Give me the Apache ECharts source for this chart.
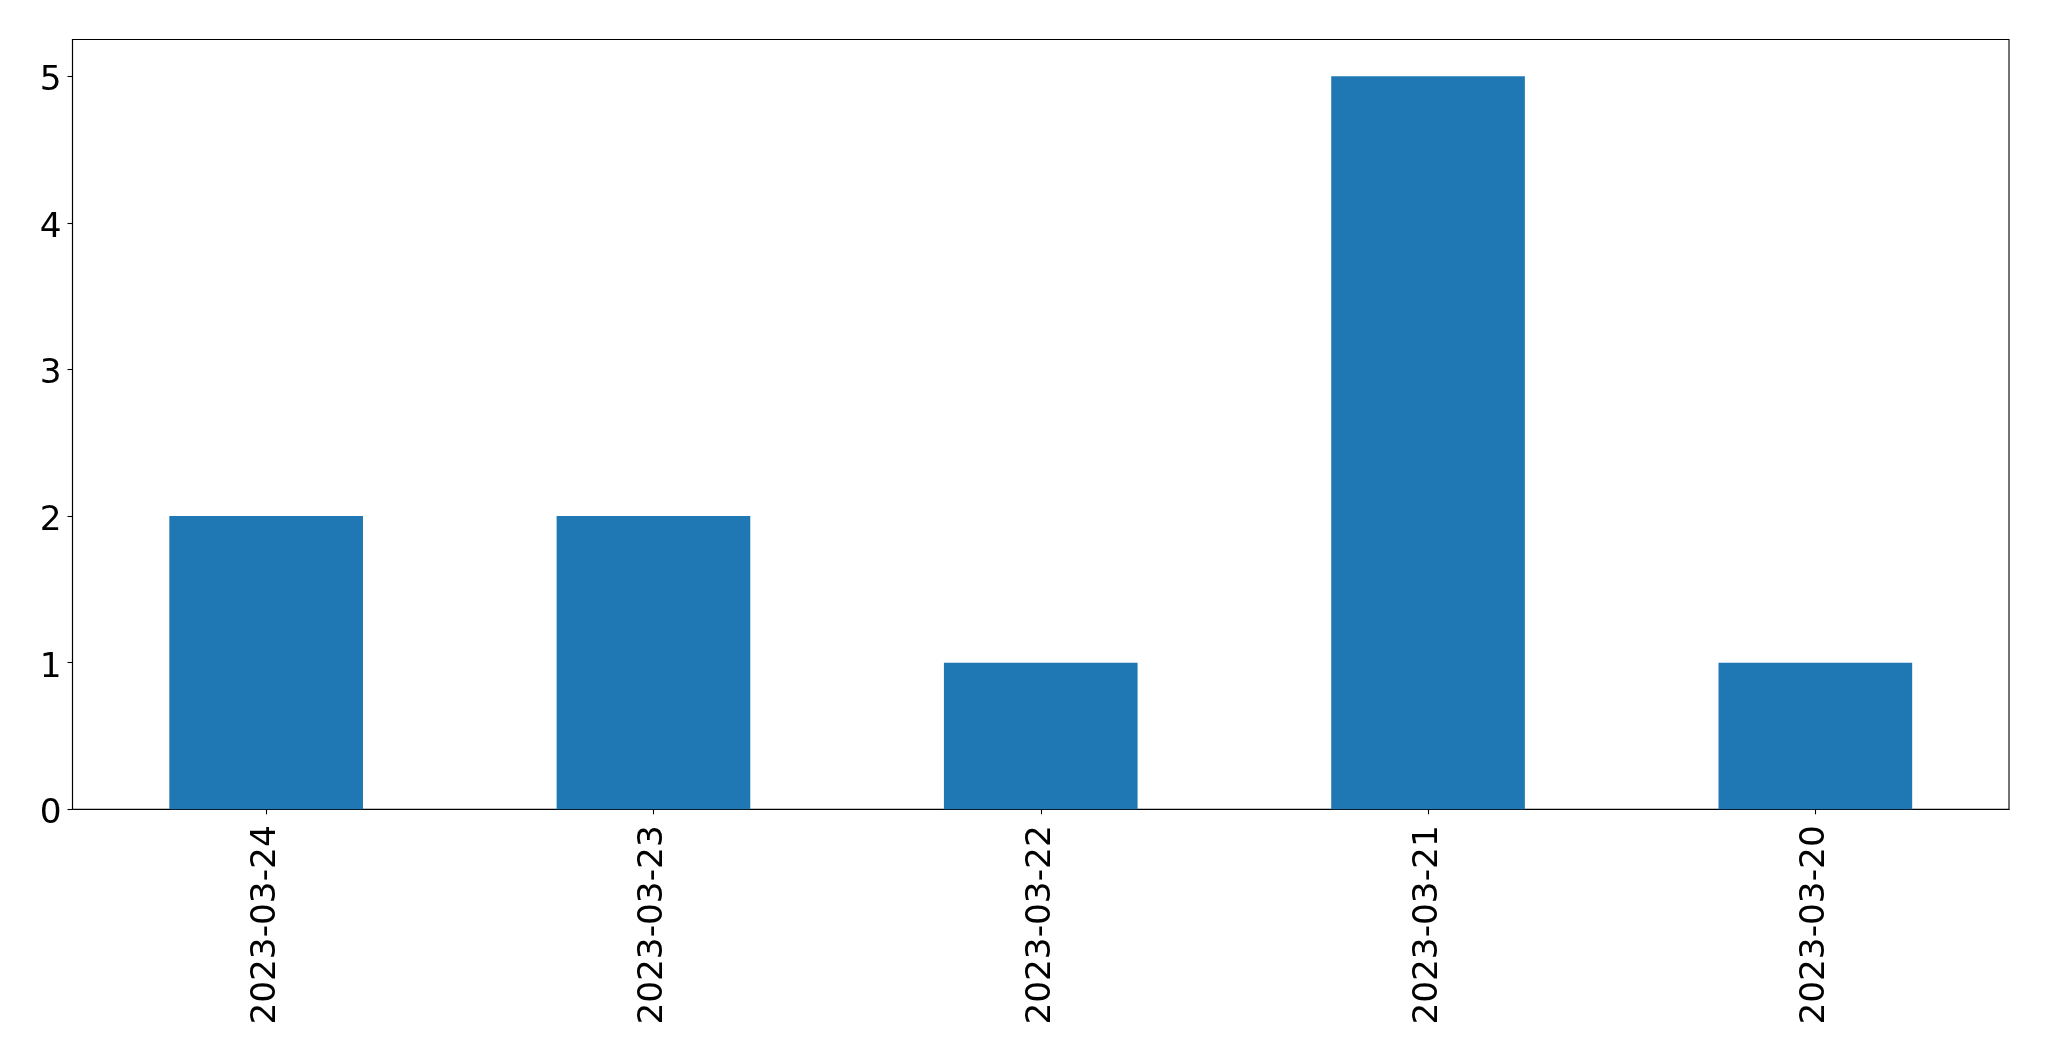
<!DOCTYPE html>
<html>
<head>
<meta charset="utf-8">
<script src="https://cdn.jsdelivr.net/npm/echarts@6/dist/echarts.min.js"></script>
<style>
  html, body { margin: 0; padding: 0; background: #fff; }
  #chart { width: 2049px; height: 1061px; }
</style>
</head>
<body>
<div id="chart"></div>
<script>
const categories = ["2023-03-24", "2023-03-23", "2023-03-22", "2023-03-21", "2023-03-20"];
const counts = [2, 2, 1, 5, 1];
const yTicks = [0, 1, 2, 3, 4, 5];

const chart = echarts.init(document.getElementById("chart"), null, { renderer: "canvas" });

const font = "DejaVu Sans";

chart.setOption({
  animation: false,
  grid: {
    left: 72.5,
    right: 40,
    top: 39.5,
    bottom: 251.7,
    show: true,
    borderColor: "#000",
    borderWidth: 1.1,
    containLabel: false,
  },
  xAxis: {
    type: "category",
    data: categories,
    axisLine: { show: true, lineStyle: { color: "#000", width: 1.1 } },
    axisTick: { show: true, alignWithLabel: true, length: 5, lineStyle: { color: "#000", width: 1.1 } },
    axisLabel: {
      rotate: 90,
      margin: 16,
      color: "#000",
      fontSize: 34.3,
      fontFamily: font,
    },
  },
  yAxis: {
    type: "value",
    min: 0,
    max: 5.25,
    interval: 1,
    splitLine: { show: false },
    axisLine: { show: true, lineStyle: { color: "#000", width: 1.1 } },
    axisTick: { show: true, length: 5, customValues: yTicks, lineStyle: { color: "#000", width: 1.1 } },
    axisLabel: {
      margin: 11,
      color: "#000",
      fontSize: 34.3,
      fontFamily: font,
      verticalAlign: "top",
      lineHeight: 10,
      customValues: yTicks,
    },
  },
  series: [
    {
      type: "bar",
      data: counts,
      barCategoryGap: "50%",
      itemStyle: { color: "#1f77b4" },
    },
  ],
});
</script>
</body>
</html>
